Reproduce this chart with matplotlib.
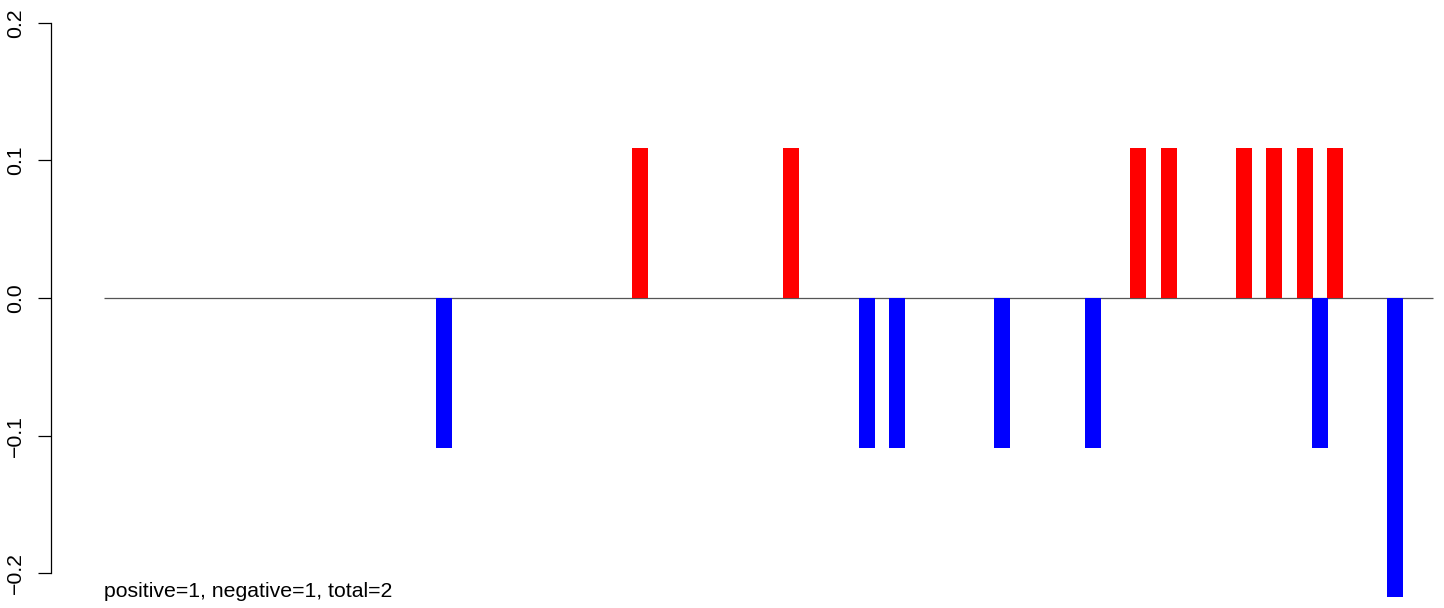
import matplotlib
matplotlib.use("Agg")
import matplotlib.pyplot as plt

# slot index of each bar along the track (88 slots, 0..87)
pos_idx = [35, 45, 68, 70, 75, 77, 79, 81]
pos_val = [0.1087] * len(pos_idx)
neg_idx = [22, 50, 52, 59, 65, 80, 85]
neg_val = [-0.1087, -0.1087, -0.1087, -0.1087, -0.1087, -0.1087, -0.2174]
n_slots = 88
yticks = [-0.2, -0.1, 0.0, 0.1, 0.2]
ytick_labels = ["\u22120.2", "\u22120.1", "0.0", "0.1", "0.2"]
caption = "positive=1, negative=1, total=2"

plt.rcParams["font.family"] = ["Liberation Sans", "DejaVu Sans"]

fig = plt.figure(figsize=(14.44, 6.08), dpi=100)
ax = fig.add_axes([50.5 / 1444, 0.0, 1 - 50.5 / 1444, 1.0])

ax.hlines(0, -0.5, n_slots - 0.5, color="#555555", linewidth=0.9, zorder=1)
ax.bar(pos_idx, pos_val, width=1.06, color="#FF0000", linewidth=0, zorder=2)
ax.bar(neg_idx, neg_val, width=1.06, color="#0000FF", linewidth=0, zorder=2)

ax.text(-0.5, -0.2174, caption, ha="left", va="baseline", fontsize=15.3,
        color="black")

ax.set_xlim(-4.02, 88.23)
ax.set_ylim(-0.2252, 0.2165)
ax.set_yticks(yticks)
ax.set_yticklabels(ytick_labels, rotation=90, va="center", fontsize=15.3)
ax.tick_params(axis="y", length=9.4, width=0.9, pad=9)
ax.set_xticks([])
for side in ("top", "right", "bottom"):
    ax.spines[side].set_visible(False)
ax.spines["left"].set_bounds(-0.2, 0.2)
ax.spines["left"].set_linewidth(0.9)

fig.savefig("out.png", dpi=100)
